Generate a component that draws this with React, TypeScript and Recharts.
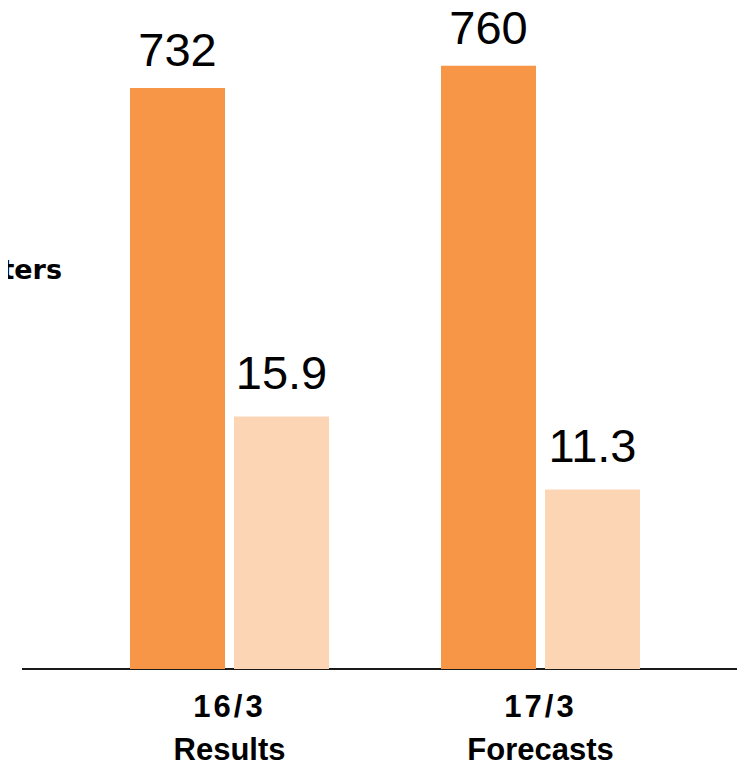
import React from 'react';
import { BarChart, Bar, XAxis, YAxis, LabelList, usePlotArea } from 'recharts';

// Fiscal periods and their sub-captions
const periods = ['16/3', '17/3'];
const periodKinds = ['Results', 'Forecasts'];

// Left-axis series (dark orange) and right-axis series (light orange)
const volumeValues = [732, 760];
const rateValues = [15.9, 11.3];

// Axis domains
const volumeDomain = [0, 800];
const rateDomain = [0, 40];

const data = periods.map((p, i) => ({
  period: p,
  kind: periodKinds[i],
  volume: volumeValues[i],
  rate: rateValues[i],
}));

// Baseline spanning the full plot area width
const Baseline = () => {
  const pa: any = (usePlotArea as any)();
  if (!pa) return null;
  const y = pa.y + pa.height;
  return (
    <line x1={pa.x} x2={pa.x + pa.width} y1={y} y2={y} stroke="#1a1a1a" strokeWidth={2} />
  );
};

const PeriodTick = (props: any) => {
  const { x, y, payload, index } = props;
  const kind = data[index] ? data[index].kind : '';
  return (
    <g transform={`translate(${x},${y})`}>
      <text
        textAnchor="middle"
        fill="#000"
        fontFamily="'Liberation Sans', Arial, sans-serif"
        fontWeight={700}
      >
        <tspan x={0} dy={48} fontSize={31} letterSpacing={3}>
          {payload.value}
        </tspan>
        <tspan x={0} dy={43} fontSize={31}>
          {kind}
        </tspan>
      </text>
    </g>
  );
};

export default function App() {
  return (
    <div style={{ margin: '-8px 0 0 -8px', width: 745, height: 766, position: 'relative' }}>
      <BarChart
        width={745}
        height={766}
        data={data}
        margin={{ top: 34, right: 0, bottom: 0, left: 22 }}
        barGap={9}
      >
        <XAxis
          dataKey="period"
          height={97}
          padding={{ left: 52, right: 49 }}
          tickLine={false}
          tickSize={0}
          tickMargin={0}
          axisLine={false}
          tick={<PeriodTick />}
          interval={0}
        />
        <YAxis yAxisId="left" domain={volumeDomain} hide />
        <YAxis yAxisId="right" orientation="right" domain={rateDomain} hide />
        <Bar
          yAxisId="left"
          dataKey="volume"
          fill="#F79646"
          barSize={95}
          isAnimationActive={false}
        >
          <LabelList
            dataKey="volume"
            position="top"
            offset={22}
            fill="#000"
            fontSize={47}
            fontFamily="'Liberation Sans', Arial, sans-serif"
          />
        </Bar>
        <Bar
          yAxisId="right"
          dataKey="rate"
          fill="#FCD5B5"
          barSize={95}
          isAnimationActive={false}
        >
          <LabelList
            dataKey="rate"
            position="top"
            offset={28}
            fill="#000"
            fontSize={47}
            fontFamily="'Liberation Sans', Arial, sans-serif"
          />
        </Bar>
        <Baseline />
        <text
          x={62}
          y={279}
          textAnchor="end"
          fill="#000"
          fontSize={27}
          fontWeight={700}
          fontFamily="'DejaVu Sans', sans-serif"
        >
          Million liters
        </text>
      </BarChart>
    </div>
  );
}
